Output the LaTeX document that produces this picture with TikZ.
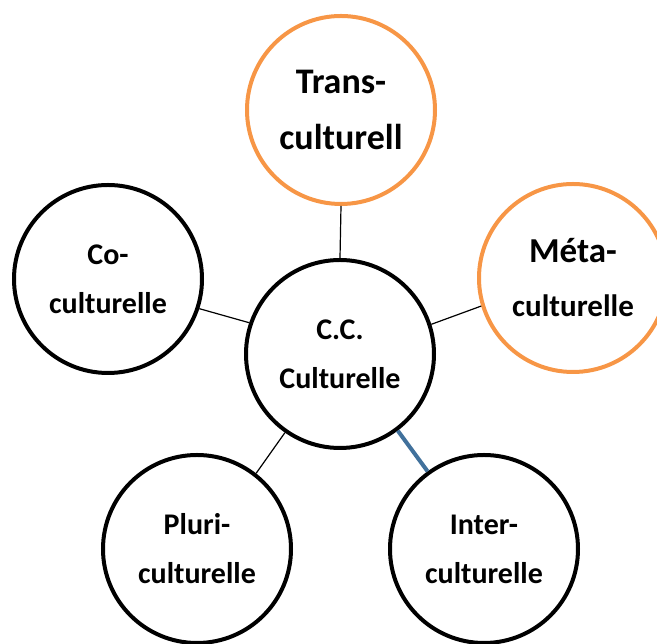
\documentclass[tikz,border=0pt]{standalone}
\usepackage{fontspec}
\setmainfont{Carlito}
\definecolor{ringorange}{HTML}{F79646}
\definecolor{linkblue}{HTML}{41719C}

\begin{document}
\begin{tikzpicture}[x=1pt,y=1pt,
  bubble/.style={circle,draw,line width=4pt,minimum size=188pt,inner sep=0pt,
    align=center,font=\bfseries\fontsize{30}{49}\selectfont},
  hot/.style={bubble,draw=ringorange},
  link/.style={line width=1.2pt}]
\useasboundingbox (0,0) rectangle (657,644);
\path (340,290) node[bubble] (cc)    {C.C.\\Culturelle};
\path (341,534) node[hot,font=\bfseries\fontsize{36}{56}\selectfont] (trans) {Trans-\\culturell};
\path (573,366) node[hot,font=\bfseries\fontsize{31}{54}\selectfont] (meta)
  {{\fontsize{35}{54}\selectfont Méta-}\\culturelle};
\path (108,365) node[bubble] (co)    {Co-\\culturelle};
\path (197, 95) node[bubble] (pluri) {Pluri-\\culturelle};
\path (484, 95) node[bubble] (inter) {Inter-\\culturelle};
\draw [link] (cc.90) -- (trans.-90);
\draw [link] (cc.161) -- (co.-18.6);
\draw [link] (cc.18) -- (meta.197.7);
\draw [link] (cc.-125.8) -- (pluri.52.7);
\draw [link,line width=4pt,linkblue] (cc.-53) -- (inter.126.4);
\end{tikzpicture}
\end{document}
